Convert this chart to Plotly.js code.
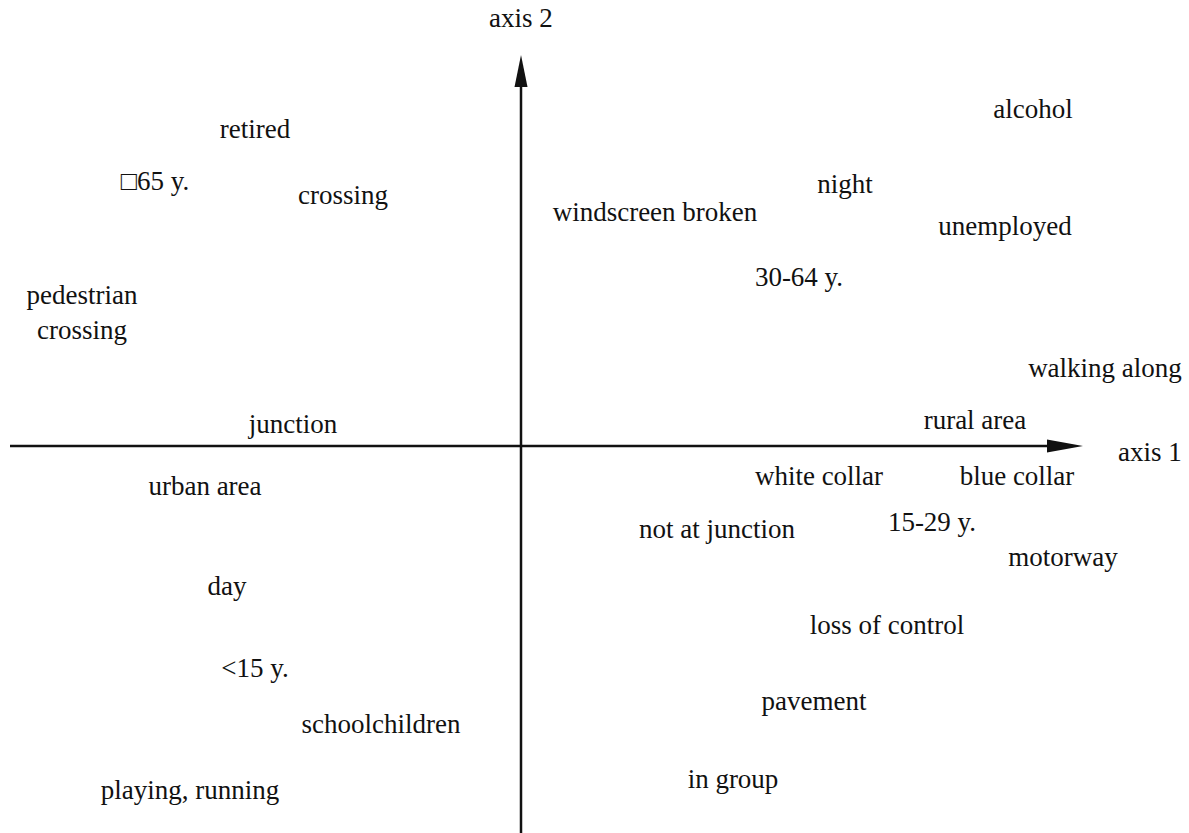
<!DOCTYPE html>
<html>
<head>
<meta charset="utf-8">
<script src="https://cdn.plot.ly/plotly-3.0.1.min.js"></script>
<style>html,body{margin:0;padding:0;background:#fff;}#chart{width:1189px;height:833px;}</style>
</head>
<body>
<div id="chart"></div>
<script>
const labels = ["retired", "\u25A165 y.", "crossing", "pedestrian<br>crossing", "junction", "urban area", "day", "&lt;15 y.", "schoolchildren", "playing, running",
  "windscreen broken", "night", "alcohol", "unemployed", "30-64 y.", "walking along", "rural area", "white collar", "blue collar",
  "not at junction", "15-29 y.", "motorway", "loss of control", "pavement", "in group"];
const axis1 = [-2.66, -3.66, -1.78, -4.39, -2.28, -3.16, -2.94, -2.66, -1.40, -3.31,
  1.34, 3.24, 5.12, 4.84, 2.78, 5.84, 4.54, 2.98, 4.96,
  1.96, 4.11, 5.42, 3.66, 2.93, 2.12];
const axis2 = [3.15, 2.63, 2.49, 1.31, 0.20, -0.42, -1.42, -2.24, -2.80, -3.46,
  2.32, 2.60, 3.35, 2.18, 1.67, 0.76, 0.24, -0.32, -0.32,
  -0.85, -0.78, -1.13, -1.81, -2.57, -3.35];
const axisNames = ["axis 1", "axis 2"];
const axis1Extent = [-5.11, 5.62];
const axis2Extent = [-3.87, 3.91];

const font = {family: "Liberation Serif, Times New Roman, serif", size: 27, color: "#111"};

const trace = {
  type: "scatter", mode: "text",
  x: axis1, y: axis2, text: labels,
  textposition: "middle center",
  textfont: font,
  hoverinfo: "skip", showlegend: false
};

const layout = {
  width: 1189, height: 833,
  margin: {l: 0, r: 0, t: 0, b: 0},
  paper_bgcolor: "#fff", plot_bgcolor: "#fff",
  xaxis: {range: [-5.21, 6.68], visible: false, fixedrange: true},
  yaxis: {range: [-3.87, 4.46], visible: false, fixedrange: true},
  shapes: [
    {type: "line", x0: axis1Extent[0], x1: axis1Extent[1] - 0.2, y0: 0, y1: 0, line: {color: "#111", width: 2.5}},
    {type: "line", x0: 0, x1: 0, y0: axis2Extent[0], y1: axis2Extent[1] - 0.2, line: {color: "#111", width: 2.5}},
    {type: "path", xref: "x", yref: "y", xsizemode: "pixel", ysizemode: "pixel",
     xanchor: axis1Extent[1], yanchor: 0, path: "M0,0 L-36,6.5 L-36,-6.5 Z", fillcolor: "#111", line: {width: 0}},
    {type: "path", xref: "x", yref: "y", xsizemode: "pixel", ysizemode: "pixel",
     xanchor: 0, yanchor: axis2Extent[1], path: "M0,0 L-6.5,-32 L6.5,-32 Z", fillcolor: "#111", line: {width: 0}}
  ],
  annotations: [
    {x: 6.29, y: -0.06, text: axisNames[0], showarrow: false, font: font, xanchor: "center", yanchor: "middle"},
    {x: 0, y: 4.28, text: axisNames[1], showarrow: false, font: font, xanchor: "center", yanchor: "middle"}
  ]
};

Plotly.newPlot("chart", [trace], layout, {displayModeBar: false, staticPlot: true});
</script>
</body>
</html>
